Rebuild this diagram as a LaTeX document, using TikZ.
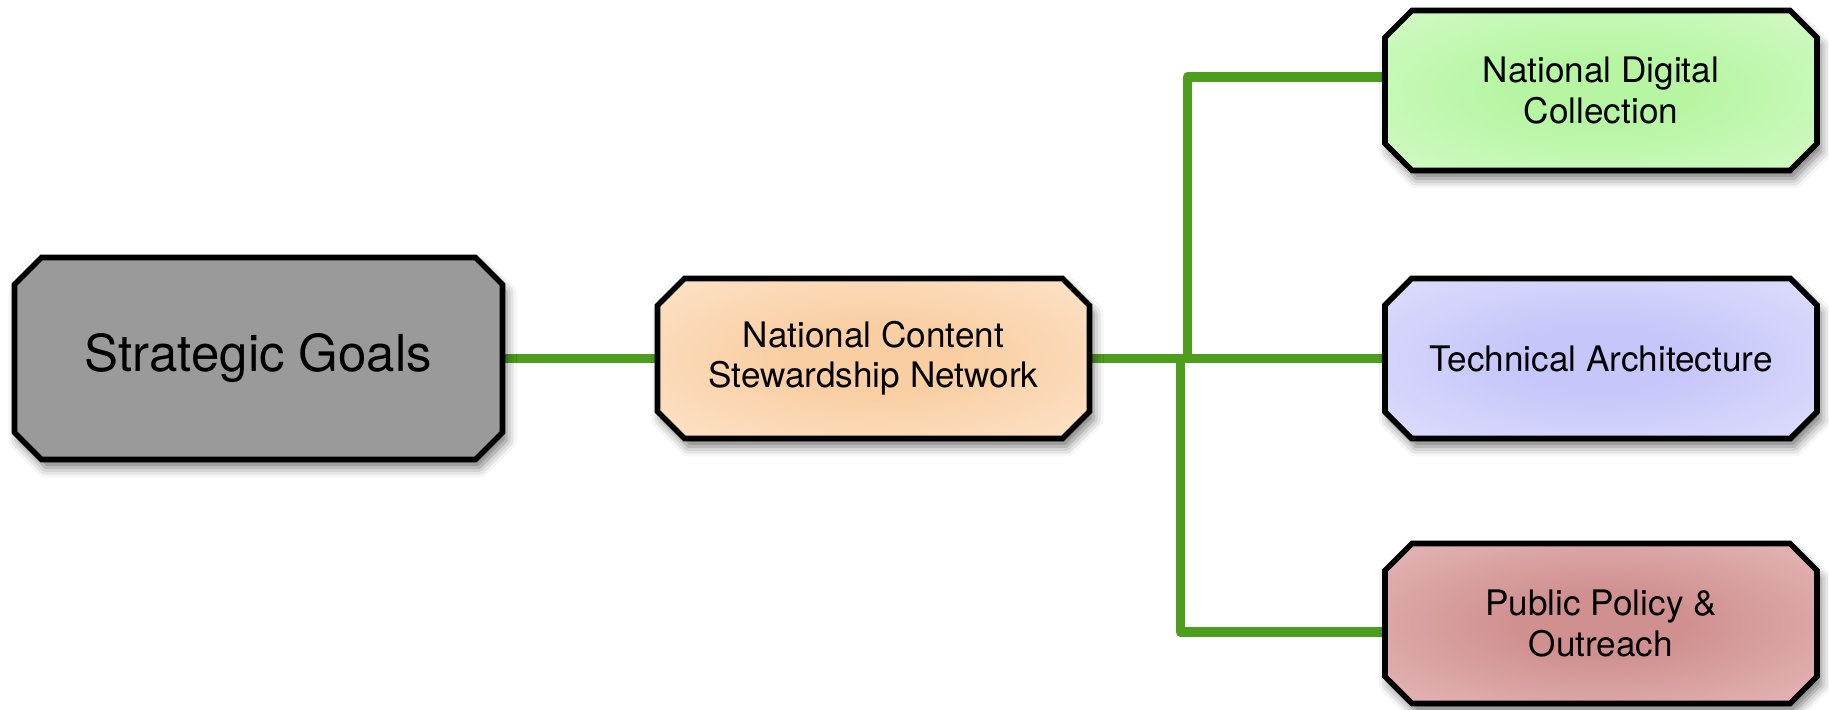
\documentclass[tikz,border=0pt]{standalone}
\usepackage{fontspec}
\setmainfont{TeX Gyre Heros}
\usetikzlibrary{shapes.misc,shadows.blur,backgrounds}
\definecolor{linkgreen}{RGB}{78,158,30}
\definecolor{goalgray}{RGB}{154,154,154}
\definecolor{peachin}{RGB}{249,206,162}
\definecolor{peachout}{RGB}{254,236,218}
\definecolor{greenin}{RGB}{182,245,162}
\definecolor{greenout}{RGB}{222,252,212}
\definecolor{lilacin}{RGB}{198,198,250}
\definecolor{lilacout}{RGB}{232,232,253}
\definecolor{rosein}{RGB}{208,144,144}
\definecolor{roseout}{RGB}{237,200,200}
\colorlet{glowin}{white}
\colorlet{glowout}{white}
\pgfdeclareradialshading[glowin,glowout]{glow}{\pgfpoint{0bp}{0bp}}{color(0bp)=(glowin); color(10bp)=(glowin); color(47bp)=(glowout); color(50bp)=(glowout)}
\begin{document}
\begin{tikzpicture}
\tikzstyle{box}=[chamfered rectangle, chamfered rectangle corners=all,
  chamfered rectangle xsep=0.135cm, chamfered rectangle ysep=0.135cm,
  draw=black, line width=1.6pt, align=center, inner sep=0pt,
  minimum width=4.32cm, minimum height=1.60cm,
  font=\fontsize{10}{11.4}\selectfont,
  blur shadow={shadow xshift=0.04cm, shadow yshift=-0.08cm, shadow blur radius=0.1cm, shadow opacity=55}]
\tikzstyle{glow}=[/utils/exec={\colorlet{glowin}{#1in}\colorlet{glowout}{#1out}}, shading=glow]
\tikzstyle{link}=[linkgreen, line width=2.6pt, line cap=round, line join=round]
\useasboundingbox (0,0) rectangle (18.29,7.10);
\node [box, fill=goalgray, minimum width=4.88cm, minimum height=2.02cm,
  font=\fontsize{14.5}{17}\selectfont] (goals) at (2.585,3.515) {Strategic Goals};
\node [box, glow=peach] (ncsn) at (8.735,3.515) {National Content\\Stewardship Network};
\node [box, glow=green] (ndc) at (16.01,6.195) {National Digital\\Collection};
\node [box, glow=lilac] (arch) at (16.01,3.515) {Technical Architecture};
\node [box, glow=rose] (ppo) at (16.01,0.865) {Public Policy \&\\Outreach};
\begin{scope}[on background layer]
\draw [link] (goals.east) -- (ncsn.west);
\draw [link] (ncsn.east) -- (arch.west);
\draw [link] (ncsn.east) -- ++(0.95,0) |- ([yshift=1.35mm]ndc.west);
\draw [link] (ncsn.east) -- ++(0.88,0) |- ([yshift=-0.85mm]ppo.west);
\end{scope}
\end{tikzpicture}
\end{document}
